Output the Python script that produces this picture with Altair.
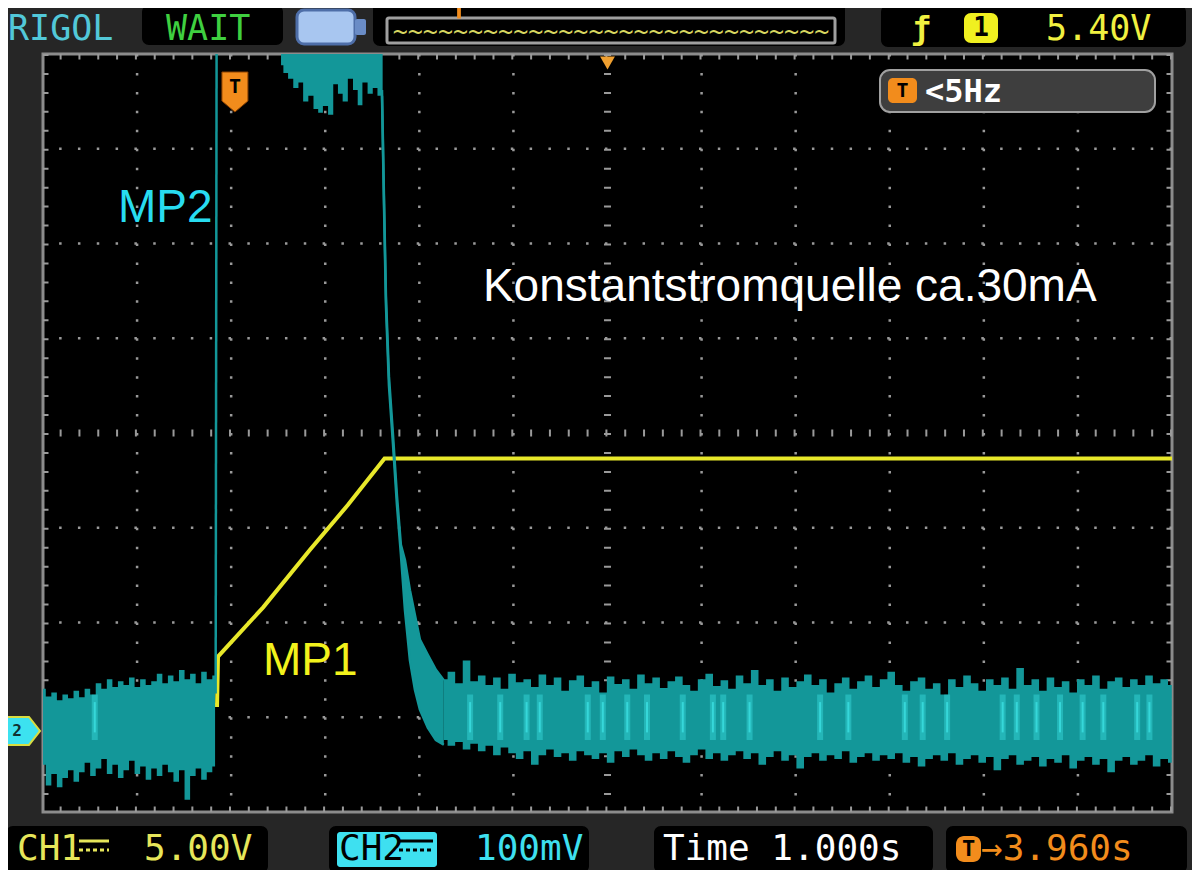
import altair as alt
import pandas as pd

# ---------------- values ----------------
# time axis: seconds relative to trigger (1.000 s/div, trigger offset 3.960 s)
T_LEFT, T_RIGHT, T_CENTER = -2.04, 9.96, 3.96
GRID_T = [-1.04, -0.04, 0.96, 1.96, 2.96, 4.96, 5.96, 6.96, 7.96, 8.96]
GRID_V = [-3, -2, -1, 1, 2, 3]          # vertical divisions

# CH1 (yellow, 5.00 V/div) – level in divisions
ch1_t = [-2.04, -0.19, -0.18, 0.30, 0.80, 1.20, 1.59, 9.96]
ch1_v = [-2.87, -2.87, -2.36, -1.84, -1.23, -0.76, -0.27, -0.27]

# CH2 (cyan, 100 mV/div) noise band before the edge
ch2L_t0, ch2L_dt = -2.04, 0.059
ch2L_hi = [-2.70, -2.78, -2.74, -2.82, -2.76, -2.80, -2.72, -2.79, -2.70, -2.76,
           -2.64, -2.70, -2.60, -2.68, -2.62, -2.66, -2.58, -2.68, -2.60, -2.66,
           -2.62, -2.54, -2.64, -2.56, -2.62, -2.50, -2.60, -2.54, -2.64, -2.52,
           -2.60, -2.56]
ch2L_lo = [-3.50, -3.72, -3.60, -3.74, -3.64, -3.56, -3.68, -3.58, -3.48, -3.62,
           -3.54, -3.44, -3.60, -3.50, -3.64, -3.56, -3.46, -3.60, -3.52, -3.66,
           -3.54, -3.62, -3.50, -3.58, -3.68, -3.56, -3.87, -3.62, -3.54, -3.66,
           -3.58, -3.52]
# rising edge
rise_t = [-0.205, -0.195]
rise_v = [-2.75, 4.00]
# trace above the screen: lower edge of the noise dipping in
top_t = [0.49, 0.54, 0.59, 0.65, 0.70, 0.75, 0.81, 0.86, 0.91, 0.96, 1.02,
         1.07, 1.12, 1.17, 1.23, 1.28, 1.33, 1.38, 1.44, 1.49, 1.54, 1.57]
top_lo = [3.88, 3.80, 3.74, 3.64, 3.70, 3.50, 3.56, 3.42, 3.38, 3.45, 3.36,
          3.68, 3.58, 3.50, 3.74, 3.62, 3.46, 3.70, 3.58, 3.64, 3.56, 3.60]
# falling edge
fall_t = [1.563, 1.584, 1.605, 1.637, 1.680, 1.722, 1.764, 1.807, 1.860, 1.913, 1.966, 2.05, 2.136, 2.22]
fall_hi = [3.62, 2.50, 1.45, 0.60, -0.02, -0.66, -1.18, -1.34, -1.66, -1.92, -2.18, -2.34, -2.50, -2.61]
fall_lo = [3.56, 2.42, 1.35, 0.50, -0.12, -0.76, -1.28, -1.87, -2.40, -2.71, -2.92, -3.11, -3.24, -3.29]
# noise band after the edge
ch2R_t0, ch2R_dt = 2.22, 0.0806
ch2R_hi = [-2.60, -2.52, -2.64, -2.40, -2.62, -2.56, -2.66, -2.58, -2.70, -2.54,
           -2.63, -2.60, -2.68, -2.55, -2.66, -2.58, -2.72, -2.61, -2.56, -2.68,
           -2.62, -2.74, -2.57, -2.65, -2.60, -2.70, -2.55, -2.64, -2.58, -2.69,
           -2.62, -2.57, -2.66, -2.72, -2.60, -2.54, -2.67, -2.61, -2.70, -2.56,
           -2.64, -2.50, -2.66, -2.60, -2.72, -2.58, -2.68, -2.62, -2.55, -2.66,
           -2.60, -2.74, -2.64, -2.58, -2.70, -2.62, -2.56, -2.68, -2.60, -2.52,
           -2.66, -2.72, -2.62, -2.58, -2.70, -2.64, -2.76, -2.60, -2.68, -2.56,
           -2.64, -2.72, -2.60, -2.66, -2.58, -2.70, -2.48, -2.66, -2.60, -2.72,
           -2.58, -2.68, -2.62, -2.74, -2.60, -2.66, -2.56, -2.70, -2.62, -2.58,
           -2.68, -2.60, -2.66, -2.56, -2.64, -2.60, -2.66]
ch2R_lo = [-3.24, -3.30, -3.26, -3.34, -3.28, -3.36, -3.30, -3.40, -3.32, -3.38,
           -3.44, -3.36, -3.50, -3.40, -3.34, -3.42, -3.38, -3.46, -3.36, -3.40,
           -3.44, -3.38, -3.48, -3.36, -3.42, -3.34, -3.40, -3.46, -3.38, -3.44,
           -3.36, -3.42, -3.48, -3.40, -3.34, -3.44, -3.38, -3.46, -3.40, -3.36,
           -3.44, -3.38, -3.50, -3.42, -3.36, -3.46, -3.40, -3.54, -3.42, -3.38,
           -3.46, -3.40, -3.44, -3.36, -3.48, -3.42, -3.38, -3.46, -3.40, -3.44,
           -3.38, -3.48, -3.42, -3.52, -3.44, -3.40, -3.46, -3.38, -3.50, -3.44,
           -3.40, -3.48, -3.42, -3.56, -3.44, -3.40, -3.50, -3.46, -3.42, -3.52,
           -3.44, -3.48, -3.40, -3.54, -3.46, -3.42, -3.50, -3.44, -3.58, -3.46,
           -3.42, -3.50, -3.46, -3.40, -3.52, -3.44, -3.48]
# bright (dense) streaks inside the noise band
streak_t = [-1.49, 2.50, 2.82, 3.10, 3.24, 3.75, 3.91, 4.17, 4.38, 4.76, 5.08, 5.19,
            5.47, 6.22, 6.52, 7.12, 7.31, 7.57, 8.16, 8.31, 8.52, 8.77, 9.01, 9.23, 9.59, 9.72]

# ---------------- styling ----------------
GC = "#9a9a9a"
TEAL = "#139799"
BRIGHT = "#46f2f4"
YEL = "#e8e82a"
ORANGE = "#f28c1c"
MONO = "DejaVu Sans Mono"
SANS = "Liberation Sans"
W, H = 1129, 758

xs = alt.Scale(domain=[T_LEFT, T_RIGHT], nice=False, zero=False)
ys = alt.Scale(domain=[-4, 4], nice=False, zero=False)
ONE = pd.DataFrame({"k": [0]})


def X(f):
    return alt.X(f, type="quantitative", scale=xs, axis=None)


def Y(f):
    return alt.Y(f, type="quantitative", scale=ys, axis=None)


def box(x0, x1, y0, y1, fill="black", stroke=None, sw=0, r=7):
    kw = dict(color=fill, cornerRadius=r)
    if stroke:
        kw.update(stroke=stroke, strokeWidth=sw)
    return alt.Chart(ONE).mark_rect(**kw).encode(
        x=alt.value(x0), x2=alt.value(x1), y=alt.value(y0), y2=alt.value(y1))


def label(txt, x, y, color, size=36, font=MONO, align="left", weight="normal"):
    return alt.Chart(ONE).mark_text(text=txt, color=color, fontSize=size, font=font,
                                    align=align, baseline="middle", fontWeight=weight).encode(
        x=alt.value(x), y=alt.value(y))


def seg(x0, x1, y, color, w=3, dash=None):
    kw = dict(color=color, strokeWidth=w)
    if dash:
        kw["strokeDash"] = dash
    return alt.Chart(ONE).mark_rule(**kw).encode(x=alt.value(x0), x2=alt.value(x1), y=alt.value(y))


layers = []

# frame layer carrying the (hidden) axes ------------------------------------
layers.append(alt.Chart(pd.DataFrame({"t": [T_LEFT, T_RIGHT], "v": [-4, 4]})).mark_point(opacity=0).encode(
    x=alt.X("t:Q", scale=xs, axis=alt.Axis(grid=False, ticks=False, labels=False, domain=False, title=None)),
    y=alt.Y("v:Q", scale=ys, axis=alt.Axis(grid=False, ticks=False, labels=False, domain=False, title=None)),
))

# graticule ---------------------------------------------------------------
for t in GRID_T:
    layers.append(alt.Chart(ONE).mark_rule(color=GC, strokeWidth=2.5, strokeDash=[2.5, 16.45],
                                           clip=True).encode(x=alt.datum(t)))
for v in GRID_V:
    layers.append(alt.Chart(ONE).mark_rule(color=GC, strokeWidth=2.5, strokeDash=[2.5, 16.32],
                                           clip=True).encode(y=alt.datum(v)))
# centre cross with sub-division ticks, border ticks
layers.append(alt.Chart(ONE).mark_rule(color=GC, strokeWidth=7, strokeDash=[2, 16.82], clip=True).encode(y=alt.datum(0)))
layers.append(alt.Chart(ONE).mark_rule(color=GC, strokeWidth=7, strokeDash=[2, 16.95], clip=True).encode(x=alt.datum(T_CENTER)))
for v in (-4, 4):
    layers.append(alt.Chart(ONE).mark_rule(color=GC, strokeWidth=11, strokeDash=[2, 16.82], clip=True).encode(y=alt.datum(v)))
for t in (T_LEFT, T_RIGHT):
    layers.append(alt.Chart(ONE).mark_rule(color=GC, strokeWidth=11, strokeDash=[2, 16.95], clip=True).encode(x=alt.datum(t)))

# trigger info box inside the screen
layers += [
    box(837, 1112, 16, 58, fill="#3e3e3e", stroke="#a0a0a0", sw=2, r=10),
    box(845, 874, 24, 49, fill=ORANGE, r=5),
    label("T", 859.5, 37, "black", size=20, weight="bold", align="center"),
    label("<5Hz", 882, 38, "white", size=32, weight="bold"),
]

# CH1 trace ---------------------------------------------------------------
layers.append(alt.Chart(pd.DataFrame({"t": ch1_t, "v": ch1_v})).mark_line(
    color=YEL, strokeWidth=4, clip=True).encode(x=X("t"), y=Y("v")))

# CH2 trace ---------------------------------------------------------------
left = pd.DataFrame({"t": [ch2L_t0 + i * ch2L_dt for i in range(len(ch2L_hi))], "hi": ch2L_hi, "lo": ch2L_lo})
right = pd.DataFrame({"t": [ch2R_t0 + i * ch2R_dt for i in range(len(ch2R_hi))], "hi": ch2R_hi, "lo": ch2R_lo})
for df in (left, right):
    layers.append(alt.Chart(df).mark_area(color=TEAL, interpolate="step", clip=True).encode(
        x=X("t"), y=Y("hi"), y2="lo"))
layers.append(alt.Chart(pd.DataFrame({"t": top_t, "lo": top_lo})).mark_area(
    color=TEAL, interpolate="step", clip=True).encode(x=X("t"), y=Y("lo"), y2=alt.datum(4.0)))
fall = pd.DataFrame({"t": fall_t, "hi": fall_hi, "lo": fall_lo})
layers.append(alt.Chart(fall).mark_area(color=TEAL, clip=True).encode(x=X("t"), y=Y("hi"), y2="lo"))
for col in ("hi", "lo"):
    layers.append(alt.Chart(fall).mark_line(color=TEAL, strokeWidth=2.5, clip=True).encode(x=X("t"), y=Y(col)))
layers.append(alt.Chart(pd.DataFrame({"t": rise_t, "v": rise_v})).mark_line(
    color=TEAL, strokeWidth=2.5, clip=True).encode(x=X("t"), y=Y("v")))
streaks = pd.DataFrame({"t": streak_t})
layers.append(alt.Chart(streaks).mark_rule(color=BRIGHT, strokeWidth=6, opacity=0.35, clip=True).encode(
    x=X("t"), y=alt.datum(-2.76), y2=alt.datum(-3.24)))
layers.append(alt.Chart(streaks).mark_rule(color=BRIGHT, strokeWidth=2, opacity=0.55, clip=True).encode(
    x=X("t"), y=alt.datum(-2.84), y2=alt.datum(-3.16)))

# annotations -------------------------------------------------------------
for txt, t, v, col in [("MP2", -1.243, 2.227, "#28dcf0"),
                       ("MP1", 0.298, -2.554, "#f2f21c"),
                       ("Konstantstromquelle ca.30mA", 2.636, 1.393, "white")]:
    layers.append(alt.Chart(ONE).mark_text(text=txt, color=col, fontSize=46, font=SANS,
                                           align="left", baseline="alphabetic").encode(
        x=alt.datum(t), y=alt.datum(v)))

# trigger position marker and centre marker
layers.append(alt.Chart(ONE).mark_point(shape="M-0.65,-1L0.65,-1L0.65,0.45L0,1L-0.65,0.45Z", size=1600,
                                        filled=True, color=ORANGE, stroke="#8a4000", strokeWidth=1,
                                        opacity=1).encode(x=alt.datum(0), y=alt.value(38)))
layers.append(alt.Chart(ONE).mark_text(text="T", color="black", fontSize=20, font=MONO, fontWeight="bold",
                                       baseline="middle").encode(x=alt.datum(0), y=alt.value(33)))
layers.append(alt.Chart(ONE).mark_point(shape="triangle-down", size=220, filled=True, color="#f0a030",
                                        opacity=1).encode(x=alt.datum(T_CENTER), y=alt.value(9)))

# CH2 ground marker on the left
layers.append(alt.Chart(ONE).mark_point(shape="M-1,-0.7L0.45,-0.7L1,0L0.45,0.7L-1,0.7Z", size=1600,
                                        filled=True, color="#3ce2f0", stroke="#d8dc40", strokeWidth=2,
                                        opacity=1).encode(x=alt.value(-23), y=alt.datum(-3.145)))
layers.append(alt.Chart(ONE).mark_text(text="2", color="#103030", fontSize=16, font=MONO, fontWeight="bold",
                                       baseline="middle").encode(x=alt.value(-26), y=alt.datum(-3.145)))

# top status bar ----------------------------------------------------------
layers += [
    label("RIGOL", -35, -25, "#52c8d8", size=35),
    box(99, 240, -49, -9),
    label("WAIT", 123, -25, "#3fd040", size=35),
    box(254, 312, -44, -10, fill="#a8c6f0", stroke="#4e6ea8", sw=3, r=7),
    box(312, 323, -35, -19, fill="#6a8cc6", r=2),
    box(330, 802, -52, -8),
    box(344, 792, -36, -11, fill="black", stroke="#a0a0a0", sw=3, r=2),
    label("~" * 29, 568, -22, "#d8d860", size=25, align="center"),
    alt.Chart(ONE).mark_point(shape="M-1,-1L1,-1L1,-0.55L0.25,-0.55L0.25,1L-0.25,1L-0.25,-0.55L-1,-0.55Z",
                              size=225, filled=True, color=ORANGE, opacity=1).encode(
        x=alt.value(416), y=alt.value(-43)),
    box(838, 1143, -49, -7),
    label("ƒ", 878, -25, "#f0f040", size=32, align="center", weight="bold"),
    box(921, 955, -41, -11, fill="#f0f020", r=7),
    label("1", 938, -26, "black", size=26, align="center", weight="bold"),
    label("5.40V", 1003, -25, "#f0f040", size=35),
]

# bottom status bar -------------------------------------------------------
layers += [
    box(-37, 225, 772, 819),
    label("CH1", -26, 795, "#e6e65a"),
    seg(36, 66, 787, "#e6e65a", w=3),
    seg(36, 66, 796, "#e6e65a", w=3, dash=[4, 3]),
    label("5.00V", 101, 795, "#e6e65a"),
    box(286, 546, 772, 819),
    box(294, 394, 778, 813, fill="#3ee0f0", r=3),
    label("CH2", 296, 795, "black"),
    seg(356, 390, 787, "black", w=3),
    seg(356, 390, 796, "black", w=3, dash=[4, 3]),
    label("100mV", 432, 795, "#3ee0f0"),
    box(611, 890, 772, 819),
    label("Time 1.000s", 620, 795, "white"),
    box(903, 1144, 772, 819),
    box(913, 938, 782, 808, fill=ORANGE, r=8),
    label("T", 925.5, 795, "black", size=22, align="center", weight="bold"),
    label("→3.960s", 938, 795, ORANGE),
]

chart = alt.layer(*layers).properties(
    width=W, height=H,
    autosize=alt.AutoSizeParams(type="none"),
    padding={"left": 35, "top": 46, "right": 20, "bottom": 58},
    background="#262626",
).configure_view(fill="black", stroke="#8c8c8c", strokeWidth=3)

chart.save("out.html", embed_options={"renderer": "svg", "actions": False})
